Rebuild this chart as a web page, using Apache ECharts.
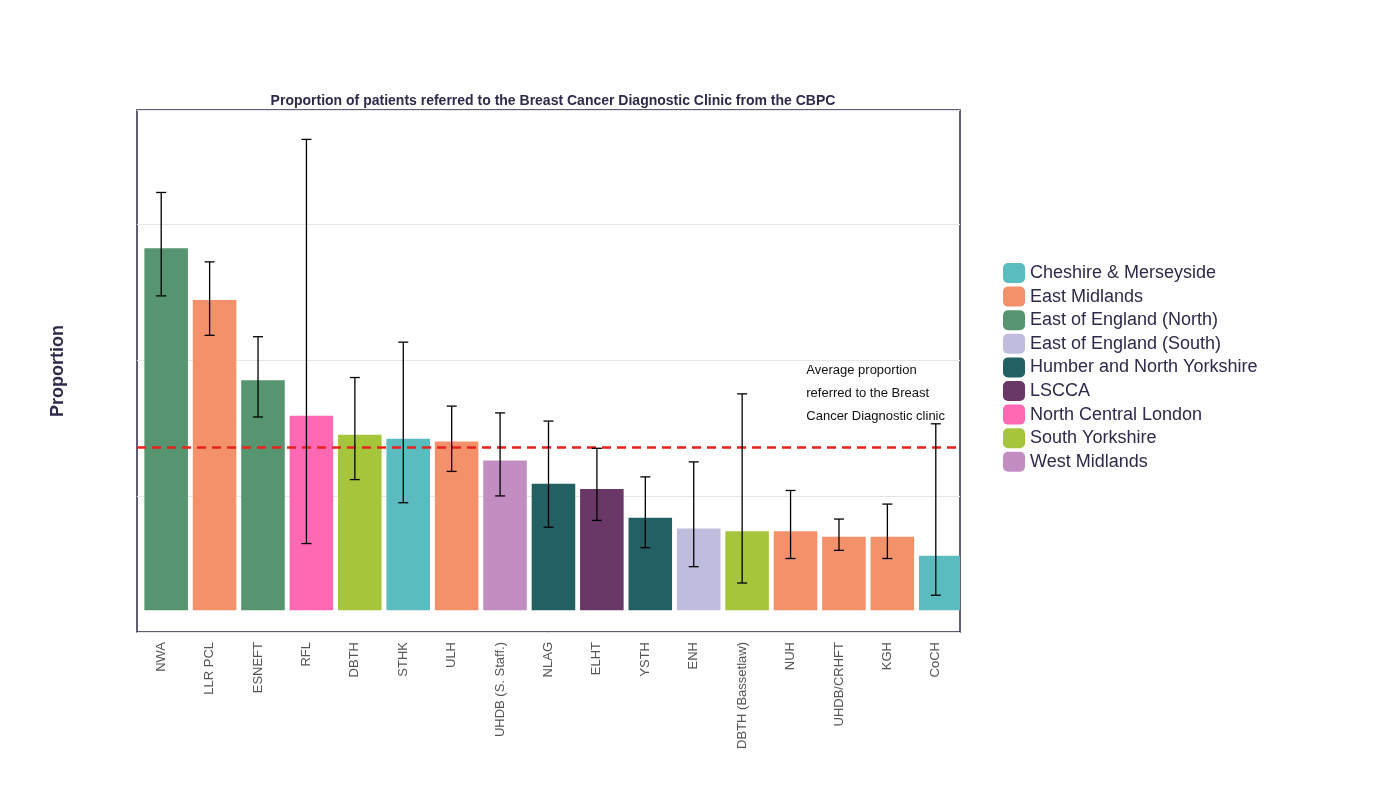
<!DOCTYPE html>
<html><head><meta charset="utf-8">
<script src="https://cdn.jsdelivr.net/npm/echarts@6/dist/echarts.min.js"></script>
<style>html,body{margin:0;background:#fff}#c{width:1379px;height:787px}</style></head>
<body><div id="c"></div>
<script>
const categories=["NWA","LLR PCL","ESNEFT","RFL","DBTH","STHK","ULH","UHDB (S. Staff.)","NLAG","ELHT","YSTH","ENH","DBTH (Bassetlaw)","NUH","UHDB/CRHFT","KGH","CoCH"];
const values=[0.266,0.228,0.169,0.143,0.129,0.126,0.124,0.110,0.093,0.089,0.068,0.060,0.058,0.058,0.054,0.054,0.040];
const lower=[0.231,0.202,0.142,0.049,0.096,0.079,0.102,0.084,0.061,0.066,0.046,0.032,0.020,0.038,0.044,0.038,0.011];
const upper=[0.307,0.256,0.201,0.346,0.171,0.197,0.150,0.145,0.139,0.119,0.098,0.109,0.159,0.088,0.067,0.078,0.137];
const regionOf=["East of England (North)","East Midlands","East of England (North)","North Central London","South Yorkshire","Cheshire & Merseyside","East Midlands","West Midlands","Humber and North Yorkshire","LSCCA","Humber and North Yorkshire","East of England (South)","South Yorkshire","East Midlands","East Midlands","East Midlands","Cheshire & Merseyside"];
const regions=["Cheshire & Merseyside","East Midlands","East of England (North)","East of England (South)","Humber and North Yorkshire","LSCCA","North Central London","South Yorkshire","West Midlands"];
const regionColors=["#5BBCC0","#F2916A","#579570","#C0BCDE","#236064","#6A3866","#FF69B4","#A5C63B","#C28EC2"];
const average=0.1206;
const colorOf=r=>regionColors[regions.indexOf(r)];
const series=regions.map((r,i)=>({name:r,type:'bar',data:[],itemStyle:{color:regionColors[i]}}));
series.push({type:'bar',name:'_bars',barWidth:'90%',data:values.map((v,i)=>({value:v,itemStyle:{color:colorOf(regionOf[i])}})),
  markLine:{symbol:'none',silent:true,label:{show:false},lineStyle:{color:'#E8221C',type:[9,6],width:2.5},data:[{yAxis:average}]}});
series.push({type:'custom',name:'_err',z:10,data:categories.map((c,i)=>[i,lower[i],upper[i]]),
  renderItem:(p,api)=>{const lo=api.coord([api.value(0),api.value(1)]),hi=api.coord([api.value(0),api.value(2)]);const w=5;
    const st={stroke:'#000',lineWidth:1.3};
    return {type:'group',children:[
      {type:'line',shape:{x1:lo[0],y1:lo[1],x2:hi[0],y2:hi[1]},style:st},
      {type:'line',shape:{x1:lo[0]-w,y1:lo[1],x2:lo[0]+w,y2:lo[1]},style:st},
      {type:'line',shape:{x1:hi[0]-w,y1:hi[1],x2:hi[0]+w,y2:hi[1]},style:st}]};}});
const ch=echarts.init(document.getElementById('c'));
ch.setOption({animation:false,
 title:{text:'Proportion of patients referred to the Breast Cancer Diagnostic Clinic from the CBPC',left:548,textAlign:'center',top:89,textStyle:{fontSize:14,fontWeight:'bold',color:'#2d2a4a',fontFamily:'Liberation Sans'}},
 grid:{left:137,right:419,top:110,bottom:155,show:true,borderColor:'#2d2a4a',borderWidth:1.5},
 legend:{orient:'vertical',left:998,top:258,itemWidth:22,itemHeight:20,itemGap:3.6,data:regions,textStyle:{fontSize:18,color:'#2d2a4a',fontFamily:'Liberation Sans'}},
 xAxis:{type:'category',data:categories,axisTick:{show:false},axisLine:{show:false},axisLabel:{rotate:90,fontSize:13,color:'#555',interval:0,margin:10,fontFamily:'Liberation Sans'}},
 yAxis:{type:'value',min:-0.016,max:0.3676,interval:0.1,name:'Proportion',nameLocation:'middle',nameGap:70,nameTextStyle:{fontSize:18,fontWeight:'bold',color:'#2d2a4a',fontFamily:'Liberation Sans'},
   axisLabel:{fontSize:17,color:'#555',formatter:v=>(Math.abs(v%0.1)<1e-6||Math.abs(v%0.1-0.1)<1e-6)&&v>=-1e-9?v.toFixed(1):'',showMinLabel:false,showMaxLabel:false,fontFamily:'Liberation Sans'},
   splitLine:{lineStyle:{color:'#e6e6e6'}},axisLine:{show:false},axisTick:{show:false}},
 graphic:[{type:'text',right:434,top:359,style:{text:'Average proportion\nreferred to the Breast\nCancer Diagnostic clinic',align:'right',fontSize:13,lineHeight:23,fill:'#111',fontFamily:'Liberation Sans'}}],
 series});
</script></body></html>
